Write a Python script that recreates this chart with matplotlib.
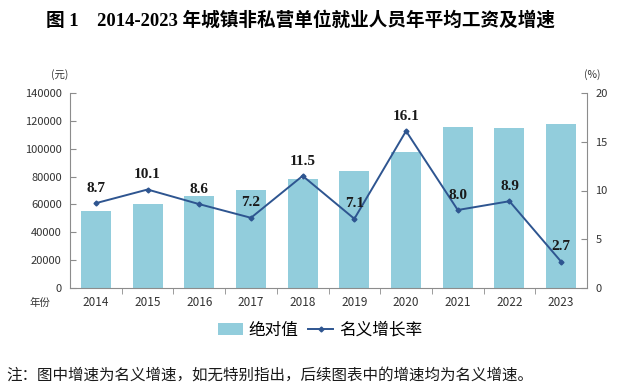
import matplotlib
matplotlib.use('Agg')
import matplotlib.pyplot as plt
import numpy as np
from matplotlib.lines import Line2D
from matplotlib.patches import Patch

plt.rcParams['font.family'] = ['Noto Sans CJK SC', 'DejaVu Sans']

years = ['2014', '2015', '2016', '2017', '2018', '2019', '2020', '2021', '2022', '2023']
wages = [55300, 60300, 66000, 70400, 78500, 84000, 97400, 115400, 114900, 117800]
growth = [8.7, 10.1, 8.6, 7.2, 11.5, 7.1, 16.1, 8.0, 8.9, 2.7]

bar_color = '#92CDDC'
line_color = '#2E5590'
axis_color = '#8C8C8C'
num_font = ['Liberation Serif', 'DejaVu Serif']

fig = plt.figure(figsize=(6.32, 3.86), dpi=100)
ax = fig.add_axes([70 / 632, 1 - 288 / 386, 517 / 632, 195 / 386])
ax2 = ax.twinx()

x = np.arange(len(years))
ax.bar(x, wages, width=0.58, color=bar_color, zorder=2)
ax.set_ylim(0, 140000)
ax.set_yticks(np.arange(0, 140001, 20000))
ax.set_xlim(-0.5, len(years) - 0.5)
ax.set_xticks(x)
ax.set_xticklabels(years)
ax.set_xticks(np.arange(0.5, len(years) - 1, 1), minor=True)
ax.tick_params(axis='x', which='major', length=0, pad=6, labelsize=8.5, colors='#333333')
ax.tick_params(axis='x', which='minor', length=4, direction='out', color=axis_color)
ax.tick_params(axis='y', direction='in', length=4, labelsize=8, color=axis_color, labelcolor='#333333', pad=6)

ax2.plot(x, growth, color=line_color, lw=1.4, marker='D', ms=2.5, zorder=3)
ax2.set_ylim(0, 20)
ax2.set_yticks([0, 5, 10, 15, 20])
ax2.tick_params(axis='y', direction='in', length=4, labelsize=8, color=axis_color, labelcolor='#333333', pad=6)

# data labels above the growth points
for xi, g in zip(x, growth):
    ax2.annotate(f'{g:.1f}', (xi, g), xytext=(0, 6), textcoords='offset points',
                 ha='center', va='bottom', fontsize=11, fontweight='bold',
                 family=num_font, color='#1a1a1a')

for a in (ax, ax2):
    a.spines['top'].set_visible(False)
    for s in ('left', 'right', 'bottom'):
        a.spines[s].set_color(axis_color)
ax.spines['right'].set_visible(False)
ax2.spines['left'].set_visible(False)
ax2.spines['bottom'].set_visible(False)

fig.text(60 / 632, 1 - 75 / 386, '(元)', ha='center', va='center', fontsize=7.5, color='#333333')
fig.text(592 / 632, 1 - 75 / 386, '(%)', ha='center', va='center', fontsize=7.5, color='#333333')
fig.text(40 / 632, 1 - 303 / 386, '年份', ha='center', va='center', fontsize=7.5, color='#333333')

fig.text(300 / 632, 1 - 20 / 386, '图 1    2014-2023 年城镇非私营单位就业人员年平均工资及增速',
         ha='center', va='center', fontsize=13.4, fontweight='bold',
         family=['Liberation Serif', 'Noto Sans CJK SC'])

handles = [Patch(facecolor=bar_color, edgecolor='none'),
           Line2D([0], [0], color=line_color, lw=1.4, marker='D', ms=2.5)]
fig.legend(handles, ['绝对值', '名义增长率'], loc='center', bbox_to_anchor=(320 / 632, 1 - 330 / 386),
           ncol=2, frameon=False, fontsize=12, handlelength=1.5, handletextpad=0.35, columnspacing=0.6)

fig.text(6 / 632, 1 - 375 / 386, '注：图中增速为名义增速，如无特别指出，后续图表中的增速均为名义增速。',
         ha='left', va='center', fontsize=11.2, color='#1a1a1a')

plt.savefig('out.png', dpi=100)
